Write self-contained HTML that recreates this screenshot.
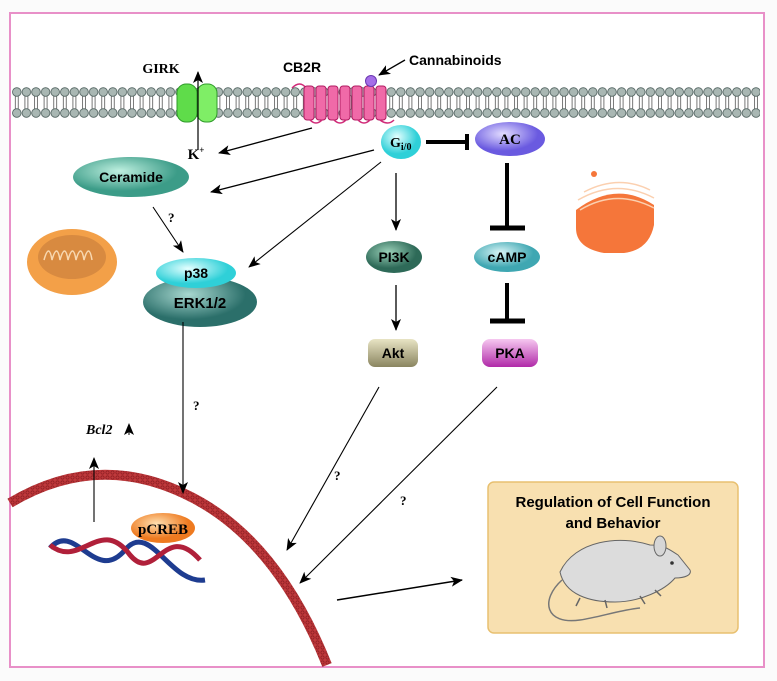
<!DOCTYPE html>
<html><head><meta charset="utf-8"><style>
html,body{margin:0;padding:0;background:#fff;}
svg{display:block;}
text{font-family:"Liberation Sans",sans-serif;}
.s{font-family:"Liberation Serif",serif;font-weight:bold;}
</style></head><body>
<svg width="777" height="681" viewBox="0 0 777 681" xmlns="http://www.w3.org/2000/svg">
<defs>
<marker id="a" markerWidth="12" markerHeight="10" refX="11" refY="5" orient="auto" markerUnits="userSpaceOnUse"><path d="M0,0 L12,5 L0,10 L3,5z" fill="#000"/></marker>
<pattern id="heads" x="12" y="0" width="9.6" height="200" patternUnits="userSpaceOnUse">
<line x1="3.3" y1="96" x2="3.3" y2="109" stroke="#555" stroke-width="0.8"/>
<line x1="6.3" y1="96" x2="6.3" y2="109" stroke="#555" stroke-width="0.8"/>
<circle cx="4.8" cy="92" r="4.3" fill="#a9b7b3" stroke="#4d5f5c" stroke-width="0.8"/>
<circle cx="4.8" cy="113" r="4.3" fill="#a9b7b3" stroke="#4d5f5c" stroke-width="0.8"/>
</pattern>
<pattern id="nuc" width="5" height="5" patternUnits="userSpaceOnUse"><rect width="5" height="5" fill="#c0393c"/><circle cx="2.5" cy="2.5" r="1.6" fill="none" stroke="#8a1c20" stroke-width="0.7"/></pattern>
<radialGradient id="gTeal" cx="40%" cy="35%"><stop offset="0" stop-color="#bff0e0"/><stop offset="1" stop-color="#3c9c88"/></radialGradient>
<radialGradient id="gCyan" cx="40%" cy="35%"><stop offset="0" stop-color="#e4ffff"/><stop offset="1" stop-color="#2fd0d8"/></radialGradient>
<radialGradient id="gErk" cx="40%" cy="35%"><stop offset="0" stop-color="#a8d8d0"/><stop offset="1" stop-color="#2b6f6a"/></radialGradient>
<radialGradient id="gPi" cx="40%" cy="35%"><stop offset="0" stop-color="#9ad0b8"/><stop offset="1" stop-color="#2e6a58"/></radialGradient>
<radialGradient id="gAc" cx="40%" cy="35%"><stop offset="0" stop-color="#e2dcff"/><stop offset="1" stop-color="#6a5ae0"/></radialGradient>
<radialGradient id="gCamp" cx="40%" cy="35%"><stop offset="0" stop-color="#d8f4f6"/><stop offset="1" stop-color="#3fa7b2"/></radialGradient>
<linearGradient id="gAkt" x1="0" y1="0" x2="0" y2="1"><stop offset="0" stop-color="#e8e4c4"/><stop offset="1" stop-color="#8a8560"/></linearGradient>
<linearGradient id="gPka" x1="0" y1="0" x2="0" y2="1"><stop offset="0" stop-color="#f6c8f0"/><stop offset="1" stop-color="#b02aa8"/></linearGradient>
<radialGradient id="gOr" cx="40%" cy="35%"><stop offset="0" stop-color="#ffe0b0"/><stop offset="1" stop-color="#ee7a20"/></radialGradient>
</defs>
<rect width="777" height="681" fill="#fbfbfb"/>
<rect x="10" y="13" width="754" height="654" fill="#fff" stroke="#e890c8" stroke-width="2"/>
<rect x="12" y="86" width="748" height="32" fill="url(#heads)"/>
<rect x="177" y="84" width="20" height="38" rx="9" fill="#5fdc4a" stroke="#2f9a2a"/>
<rect x="197" y="84" width="20" height="38" rx="9" fill="#7fee66" stroke="#2f9a2a"/>
<line x1="198" y1="150" x2="198" y2="72" stroke="#000" stroke-width="1.2" marker-end="url(#a)"/>
<text x="161" y="73" class="s" font-size="14" text-anchor="middle">GIRK</text>
<text x="196" y="159" class="s" font-size="15" text-anchor="middle">K<tspan font-size="9" dy="-6">+</tspan></text>
<path d="M292,88 q8,-8 14,0" fill="none" stroke="#d02a78" stroke-width="1.5"/>
<g fill="#f06aa8" stroke="#b01a60" stroke-width="1">
<rect x="304" y="86" width="10" height="34" rx="3"/><rect x="316" y="86" width="10" height="34" rx="3"/>
<rect x="328" y="86" width="10" height="34" rx="3"/><rect x="340" y="86" width="10" height="34" rx="3"/>
<rect x="352" y="86" width="10" height="34" rx="3"/><rect x="364" y="86" width="10" height="34" rx="3"/>
<rect x="376" y="86" width="10" height="34" rx="3"/></g>
<path d="M310,120 q6,6 12,0 M334,120 q6,6 12,0 M358,120 q6,6 12,0 M380,120 q8,6 14,0" fill="none" stroke="#d02a78" stroke-width="1.5"/>
<circle cx="371" cy="81" r="5.5" fill="#a56ee8" stroke="#6a38b0"/>
<text x="302" y="72" font-size="14" font-weight="bold" text-anchor="middle">CB2R</text>
<text x="409" y="65" font-size="14" font-weight="bold">Cannabinoids</text>
<line x1="405" y1="60" x2="379" y2="75" stroke="#000" stroke-width="1.3" marker-end="url(#a)"/>
<line x1="312" y1="128" x2="219" y2="153" stroke="#000" stroke-width="1.3" marker-end="url(#a)"/>
<ellipse cx="401" cy="142" rx="20" ry="17" fill="url(#gCyan)"/>
<text x="390" y="147" class="s" font-size="14">G<tspan font-size="10" dy="3">i/0</tspan></text>
<line x1="426" y1="142" x2="466" y2="142" stroke="#000" stroke-width="4"/>
<line x1="467" y1="134" x2="467" y2="150" stroke="#000" stroke-width="4"/>
<ellipse cx="510" cy="139" rx="35" ry="17" fill="url(#gAc)"/>
<text x="510" y="144" class="s" font-size="15" text-anchor="middle" font-weight="normal">AC</text>
<line x1="507" y1="163" x2="507" y2="228" stroke="#000" stroke-width="4"/>
<line x1="490" y1="228" x2="525" y2="228" stroke="#000" stroke-width="5"/>
<ellipse cx="507" cy="257" rx="33" ry="15" fill="url(#gCamp)"/>
<text x="507" y="262" font-size="14" font-weight="bold" text-anchor="middle">cAMP</text>
<line x1="507" y1="283" x2="507" y2="320" stroke="#000" stroke-width="4"/>
<line x1="490" y1="321" x2="525" y2="321" stroke="#000" stroke-width="5"/>
<rect x="482" y="339" width="56" height="28" rx="8" fill="url(#gPka)"/>
<text x="510" y="358" font-size="14" font-weight="bold" text-anchor="middle">PKA</text>
<line x1="396" y1="173" x2="396" y2="230" stroke="#000" stroke-width="1.3" marker-end="url(#a)"/>
<ellipse cx="394" cy="257" rx="28" ry="16" fill="url(#gPi)"/>
<text x="394" y="262" font-size="14" font-weight="bold" text-anchor="middle">PI3K</text>
<line x1="396" y1="285" x2="396" y2="330" stroke="#000" stroke-width="1.3" marker-end="url(#a)"/>
<rect x="368" y="339" width="50" height="28" rx="7" fill="url(#gAkt)"/>
<text x="393" y="358" font-size="14" font-weight="bold" text-anchor="middle">Akt</text>
<ellipse cx="131" cy="177" rx="58" ry="20" fill="url(#gTeal)"/>
<text x="131" y="182" font-size="14" font-weight="bold" text-anchor="middle">Ceramide</text>
<line x1="374" y1="150" x2="211" y2="192" stroke="#000" stroke-width="1.3" marker-end="url(#a)"/>
<line x1="381" y1="162" x2="249" y2="267" stroke="#000" stroke-width="1.1" marker-end="url(#a)"/>
<line x1="153" y1="207" x2="183" y2="252" stroke="#000" stroke-width="1.1" marker-end="url(#a)"/>
<text x="168" y="222" class="s" font-size="13">?</text>
<ellipse cx="72" cy="262" rx="45" ry="33" fill="#f3a048"/>
<ellipse cx="72" cy="257" rx="34" ry="22" fill="#d88a40"/>
<path d="M44,260 q5,-18 8,0 q5,-18 8,0 q5,-18 8,0 q5,-18 8,0 q5,-18 8,0 q5,-18 8,0" fill="none" stroke="#f8d8b0" stroke-width="1.5"/>
<path d="M576,210 q40,-30 78,-5 l0,20 q-5,25 -30,28 l-20,0 q-28,-5 -28,-25z" fill="#f5763a"/>
<path d="M578,200 q38,-22 76,-2 M580,210 q36,-22 74,-2 M584,192 q34,-18 66,-2" fill="none" stroke="#fbd0b0" stroke-width="1.5"/>
<circle cx="594" cy="174" r="3" fill="#f5763a"/>
<ellipse cx="200" cy="302" rx="57" ry="25" fill="url(#gErk)"/>
<text x="200" y="308" font-size="15" font-weight="bold" text-anchor="middle">ERK1/2</text>
<ellipse cx="196" cy="273" rx="40" ry="15" fill="url(#gCyan)"/>
<text x="196" y="278" font-size="14" font-weight="bold" text-anchor="middle">p38</text>
<path d="M10,503 Q95,452 183,493 Q275,535 327,665" fill="none" stroke="url(#nuc)" stroke-width="10"/>
<line x1="183" y1="322" x2="183" y2="493" stroke="#000" stroke-width="1.1" marker-end="url(#a)"/>
<text x="193" y="410" class="s" font-size="13">?</text>
<text x="86" y="434" class="s" font-size="14" font-style="italic">Bcl2</text>
<line x1="129" y1="435" x2="129" y2="424" stroke="#000" stroke-width="1" marker-end="url(#a)"/>
<line x1="94" y1="522" x2="94" y2="458" stroke="#000" stroke-width="1.1" marker-end="url(#a)"/>
<path d="M50,548 C75,520 95,585 125,550 C150,520 170,585 205,580" fill="none" stroke="#1e3c90" stroke-width="5"/>
<path d="M50,545 C80,570 100,515 130,555 C155,585 165,520 200,560" fill="none" stroke="#b0203a" stroke-width="5"/>
<ellipse cx="163" cy="528" rx="32" ry="15" fill="url(#gOr)"/>
<text x="163" y="534" class="s" font-size="15" font-weight="normal" text-anchor="middle">pCREB</text>
<line x1="379" y1="387" x2="287" y2="550" stroke="#000" stroke-width="1.1" marker-end="url(#a)"/>
<text x="334" y="480" class="s" font-size="13">?</text>
<line x1="497" y1="387" x2="300" y2="583" stroke="#000" stroke-width="1.1" marker-end="url(#a)"/>
<text x="400" y="505" class="s" font-size="13">?</text>
<line x1="337" y1="600" x2="462" y2="580" stroke="#000" stroke-width="1.5" marker-end="url(#a)"/>
<rect x="488" y="482" width="250" height="151" rx="6" fill="#f8e0b0" stroke="#e8c070" stroke-width="1.5"/>
<text x="613" y="507" font-size="15" font-weight="bold" text-anchor="middle">Regulation of Cell Function</text>
<text x="613" y="528" font-size="15" font-weight="bold" text-anchor="middle">and Behavior</text>
<path d="M560,572 C575,540 620,535 650,545 C665,545 670,550 678,555 L690,570 C692,575 685,578 675,578 C665,590 640,602 615,602 C590,602 565,595 560,572z" fill="#dcdcdc" stroke="#666" stroke-width="1"/>
<ellipse cx="660" cy="546" rx="6" ry="10" fill="#d6d6d6" stroke="#666"/>
<circle cx="672" cy="563" r="1.8" fill="#333"/>
<path d="M562,580 C540,600 545,625 580,620 C600,617 620,610 640,608" fill="none" stroke="#777" stroke-width="1.5"/>
<path d="M580,598 l-4,8 M605,600 l2,8 M640,596 l5,8 M655,590 l6,6" stroke="#666" stroke-width="1.5"/>
</svg>
</body></html>
